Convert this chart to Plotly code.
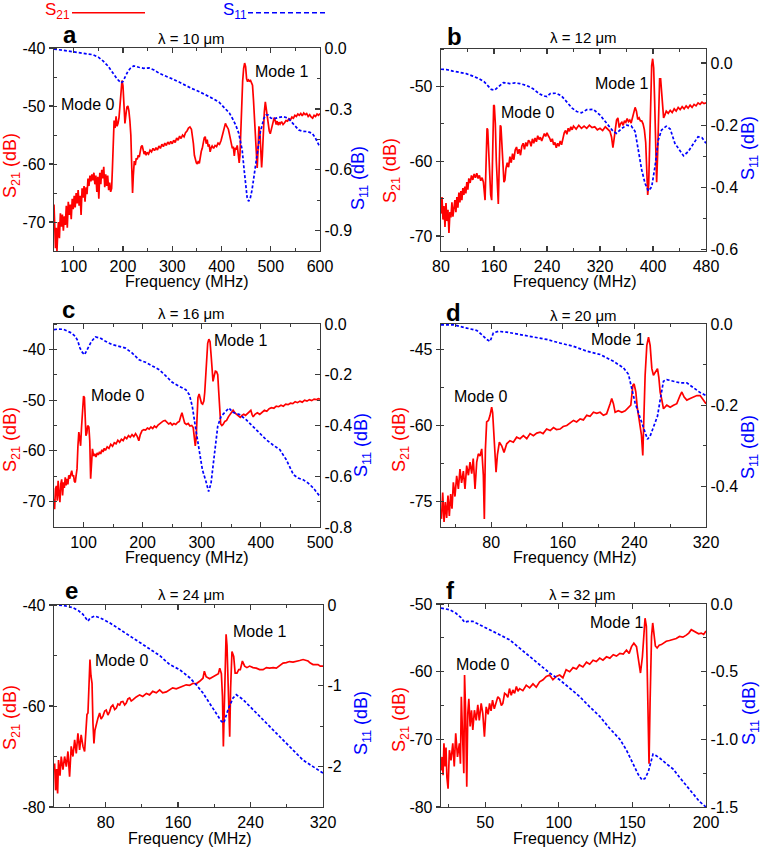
import plotly.graph_objects as go

# ---------------- data (frequency MHz, dB) ----------------
a_s21 = [(60,-67),(61.5,-70.5),(63,-74.5),(64.5,-71),(66,-75),(67.5,-72),(69,-70),(71,-72.8),(73,-68.5),(75,-70.8),
         (77,-68.7),(79,-71.5),(81,-69),(83,-70.5),(85,-67.2),(87,-71),(89,-66.5),(91,-68.8),(93,-67),(95,-69.5),
         (97,-66),(99,-67.8),(101,-65.5),(103,-67.5),(105,-65),(107,-66.8),(109,-64.5),(111,-67.2),(113,-65.5),(115,-68.8),
         (117,-64.2),(119,-65.8),(121,-63.8),(123,-66.5),(125,-64),(127,-65.2),(129,-62.5),(131,-63.8),(133,-62),(135,-63),
         (137,-61.8),(139,-62.8),(141,-61.5),(143,-63.5),(145,-62),(147,-64.8),(149,-62.2),(151,-66),(153,-61.5),(155,-63.5),
         (157,-61),(159,-62.5),(161,-60.5),(163,-64),(165,-61.8),(167,-63.8),(169,-62),(171,-64.5),(173,-63.2),(175,-64.8),
         (177,-64.2),(178.5,-61),(180,-55),(182,-52.5),(184,-53.8),(186,-51.8),(188,-53.5),(190,-53),(192,-52),(194,-50),
         (196,-47),(198,-45.6),(200,-46.5),(202,-50.5),(204,-53),(206,-51.5),(208,-50.2),(210,-50),(212,-50.8),(214,-52.5),
         (216,-55),(218,-61),(219.5,-65),(221,-62),(223,-59.5),(225,-60.2),(227,-59),(229,-59.2),(231,-58.5),(233,-58.8),
         (235,-57.8),(237,-57),(239,-56.8),(241,-57.5),(243,-58.3),(245,-57.8),(247,-58.5),(249,-58),(252,-58.3),(255,-57.6),
         (258,-57.9),(261,-57.3),(264,-57.7),(267,-57.2),(270,-57.6),(273,-56.9),(276,-57.3),(279,-56.6),(282,-57),(285,-56.4),
         (288,-56.8),(291,-56.2),(294,-56.6),(297,-56.1),(300,-56.5),(303,-55.9),(306,-56.3),(309,-55.5),(312,-55.9),(315,-55.2),
         (318,-55.6),(321,-55),(324,-55.3),(327,-54.6),(330,-54.3),(333,-53.8),(336,-53.6),(339,-54),(341,-55),(343,-56.5),
         (345,-58.5),(347,-59.3),(349,-59.8),(351,-60),(353,-59.5),(355,-59.9),(357,-58.5),(359,-57.8),(361,-57.3),(363,-56.2),
         (365,-55.5),(367,-55.3),(369,-56.5),(371,-55.8),(373,-57),(375,-56.6),(377,-57.9),(379,-57.2),(381,-56.9),(384,-57.3),
         (387,-56.8),(390,-57),(393,-56.4),(396,-56.6),(399,-56),(402,-55),(405,-54.2),(408,-53),(410,-53.4),(412,-53.8),
         (414,-54),(416,-54.8),(418,-55.6),(420,-56.8),(422,-57.3),(424,-57),(426,-58.6),(428,-57.2),(430,-57.5),(432,-56.8),
         (434,-58),(436,-59.8),(437.5,-58.5),(439,-55),(441,-49),(443,-45.7),(445,-43.5),(447,-42.6),(449,-43.2),(451,-45.3),
         (453,-45.8),(455,-45.5),(457,-45.7),(459,-45.6),(461,-46),(463,-46.4),(465,-49),(467,-52.5),(469,-56),(471,-59),
         (472.5,-60.7),(474,-58),(476,-53.5),(478,-54.5),(480,-58),(481.5,-60.6),(483,-58.5),(485,-54),(487,-51),(489,-49.3),
         (491,-50.5),(493,-52),(495,-53.5),(497,-54.3),(499,-54.8),(501,-54),(503,-53.2),(505,-52.6),(507,-52),(509,-52.5),
         (511,-53.2),(513,-52.6),(515,-53.3),(517,-52.8),(519,-53.1),(522,-52.7),(525,-53.2),(528,-52.9),(531,-52.5),(534,-52.6),
         (537,-52.2),(540,-52.4),(543,-51.9),(546,-52.1),(549,-51.6),(552,-51.8),(555,-51.4),(558,-51.6),(561,-51.3),(564,-51.7),
         (567,-51.2),(570,-51.5),(573,-51.3),(576,-51.8),(579,-51.5),(582,-51.9),(585,-52.1),(588,-51.6),(591,-51.8),(594,-51.4),
         (597,-51.6),(600,-51.3)]
a_s11 = [(60,-0.005),(80,-0.012),(105,-0.02),(125,-0.026),(139,-0.033),(150,-0.045),(160,-0.065),(170,-0.09),(180,-0.125),
         (188,-0.152),(196,-0.172),(200,-0.165),(205,-0.14),(210,-0.115),(215,-0.1),(222,-0.088),(232,-0.095),(242,-0.1),
         (253,-0.098),(263,-0.108),(274,-0.125),(287,-0.137),(301,-0.153),(314,-0.168),(327,-0.186),(340,-0.2),(354,-0.214),
         (367,-0.228),(381,-0.247),(395,-0.267),(408,-0.297),(416,-0.32),(422,-0.346),(429,-0.38),(435,-0.42),(439,-0.46),
         (442,-0.502),(446,-0.6),(449,-0.684),(452,-0.735),(455,-0.755),(458,-0.745),(462,-0.7),(466,-0.634),(469,-0.57),
         (472,-0.51),(476,-0.455),(479,-0.412),(483,-0.375),(486,-0.346),(490,-0.33),(495,-0.33),(500,-0.345),(507,-0.348),
         (516,-0.342),(525,-0.338),(535,-0.345),(543,-0.365),(551,-0.385),(557,-0.404),(565,-0.41),(575,-0.412),(584,-0.42),
         (590,-0.44),(597,-0.475),(600,-0.486)]

b_s21 = [(80,-67),(81.5,-64.8),(83,-67.8),(84.5,-66),(86,-68.8),(87.5,-65.6),(89,-68),(90.5,-66.5),(92,-69.6),(93.5,-66.8),
         (95,-67.5),(96.5,-65.5),(98,-67.4),(99.5,-66),(101,-65.2),(102.5,-66.8),(104,-64.8),(105.5,-66.2),(107,-64.2),(108.5,-65.5),
         (110,-64),(111.5,-65.2),(113,-63.6),(114.5,-64.5),(116,-63.4),(117.5,-64.3),(119,-62.8),(120.5,-63.8),(122,-62.3),(124,-62.9),
         (126,-61.9),(128,-62.5),(130,-61.7),(132,-62.2),(134,-61.6),(136,-62.3),(138,-61.9),(140,-62.6),(142,-62.2),(144,-62.8),
         (145.5,-64.2),(146.5,-65.2),(147.5,-62),(148.5,-57),(149.5,-55.6),(150.5,-55.8),(152,-58.5),(153.5,-62.5),(155,-64.5),(156.5,-65.2),
         (157.5,-61),(158.5,-55),(159.5,-52.5),(160.5,-52.6),(162,-55),(163.5,-60),(165,-64),(166.5,-65.7),(167.5,-62),(168.5,-57),
         (169.5,-55.2),(170.5,-55.4),(172,-57.5),(173.5,-61),(175,-62.8),(176.5,-62.5),(178,-61),(180,-60.2),(182,-60.8),(184,-59.4),
         (186,-60.2),(188,-59),(190,-59.8),(192,-58.5),(194,-58.1),(196,-59),(198,-58.4),(200,-59.2),(202,-58),(204,-57.6),
         (206,-58.4),(208,-57.5),(210,-58),(212,-57.2),(214,-57.4),(216,-58),(218,-57),(220,-57.6),(222,-56.9),(224,-57.4),
         (226,-56.6),(228,-57.1),(230,-56.8),(232,-57.3),(234,-56.8),(236,-56.3),(238,-56.7),(240,-56.2),(242,-56.6),(244,-56.9),
         (246,-57.4),(248,-57),(250,-57.8),(252,-57.5),(254,-58.2),(256,-57.6),(258,-58),(260,-57.3),(262,-57.8),(264,-57),
         (266,-56.2),(268,-55.9),(270,-56.4),(272,-55.6),(274,-56),(276,-55.4),(278,-55.8),(280,-55.3),(284,-55.7),(288,-55.2),
         (292,-55.6),(296,-55.3),(300,-55.6),(304,-55.2),(308,-55.5),(312,-55.4),(316,-55.8),(320,-55.6),(324,-55.9),(328,-55.4),
         (332,-55.8),(335,-56),(337.5,-56.8),(339.5,-58.2),(341,-57.2),(343,-55.5),(345,-54.5),(347,-54.2),(349,-55.5),(351,-55),
         (353,-54.8),(355,-55.2),(357,-54.6),(359,-54.8),(361,-54.3),(363,-54.7),(365,-54.5),(367,-54.9),(369,-54.3),(371,-53.5),
         (373,-52.8),(375,-53.3),(377,-54.4),(379,-54.2),(381,-54.6),(383,-54.6),(385,-55),(387,-55.8),(389,-57.5),(390.5,-61),
         (392,-64.5),(393.5,-63),(395,-58),(396.5,-51),(398,-47.2),(399.5,-46.3),(401,-47.5),(402.5,-52),(404,-58),(405.5,-62.8),
         (407,-59),(408.5,-52),(410,-49),(411.5,-49),(413,-50.5),(414.5,-53),(416,-54.2),(418,-53.8),(420,-53.3),(423,-53.6),
         (426,-53.2),(429,-53.5),(432,-53),(435,-53.3),(438,-52.8),(441,-53.1),(444,-52.7),(447,-53),(450,-52.6),(453,-52.9),
         (456,-52.5),(459,-52.8),(462,-52.4),(465,-52.6),(468,-52.2),(471,-52.4),(474,-52.1),(477,-52.3),(480,-52.2)]
b_s11 = [(80,-0.02),(88,-0.021),(98,-0.026),(108,-0.031),(118,-0.034),(128,-0.042),(138,-0.051),(145,-0.06),(150,-0.07),
         (156,-0.085),(161,-0.087),(166,-0.078),(174,-0.063),(184,-0.066),(192,-0.064),(199,-0.066),(209,-0.072),(219,-0.083),
         (229,-0.1),(236,-0.106),(240,-0.108),(245,-0.098),(254,-0.097),(262,-0.106),(270,-0.125),(278,-0.145),(285,-0.156),
         (292,-0.16),(300,-0.15),(310,-0.149),(320,-0.167),(330,-0.194),(340,-0.22),(345,-0.226),(353,-0.21),(360,-0.2),
         (367,-0.202),(373,-0.22),(378,-0.28),(383,-0.344),(388,-0.387),(393,-0.411),(398,-0.398),(403,-0.333),(408,-0.247),
         (413,-0.215),(420,-0.203),(426,-0.212),(433,-0.258),(441,-0.285),(446,-0.298),(453,-0.285),(461,-0.258),(468,-0.237),
         (474,-0.24),(480,-0.258)]

c_s21 = [(50,-69.5),(51,-71.5),(52.5,-67.5),(54,-66.9),(55.5,-69.8),(57,-65.9),(58.5,-68.5),(60,-70.1),(61.5,-66.5),(63,-65.6),
         (64.5,-68.8),(66,-66.2),(67.5,-67.3),(69,-65.2),(70.5,-66.8),(72,-65.5),(73.5,-66.6),(75,-64.8),(76.5,-65.5),(78,-64.5),
         (80,-63.9),(81.5,-65),(83,-64.8),(84.5,-66),(86,-66.2),(87.5,-64.8),(89,-63.5),(90.5,-59),(92,-56.3),(93.5,-57.5),
         (95,-59),(96.5,-55.5),(98,-52.5),(100,-49.2),(101.5,-49.5),(103,-53),(104,-57),(105.5,-56.5),(107,-55),(109,-55.3),
         (110.5,-58),(112,-65.5),(113.5,-62),(115,-59.6),(117,-61),(119,-60.6),(121,-61.2),(123,-60.4),(125,-60.8),(127,-60.2),
         (129,-60.6),(131,-59.8),(133,-60.2),(135,-59.5),(137,-59.9),(140,-59.2),(143,-59.5),(146,-58.7),(149,-59.1),(152,-58.4),
         (155,-58.6),(158,-57.9),(161,-58.3),(164,-57.7),(167,-58),(170,-57.3),(173,-57.6),(176,-57),(179,-57.3),(182,-56.8),
         (185,-57.2),(188,-56.6),(191,-57.2),(193.5,-58),(196,-56.8),(199,-56),(202,-55.8),(205,-55.9),(208,-55.5),(211,-55.7),
         (214,-55.3),(217,-55.6),(220,-55.1),(223,-55.4),(226,-54.9),(229,-54.6),(232,-54.4),(235,-54.1),(238,-54),(241,-54.3),
         (244,-54.7),(247,-54.5),(250,-54.9),(253,-54.6),(256,-54.8),(259,-54.4),(262,-54.2),(264.5,-53.2),(266.5,-52.5),(268.5,-53.4),
         (271,-54.5),(274,-54.8),(277,-54.6),(280,-55.1),(283,-55),(285.5,-55.4),(287.5,-57),(289,-59),(290.5,-57.5),(292,-52),
         (293.5,-49.5),(295.5,-48.8),(297.5,-49.6),(299.5,-50.6),(301.5,-50.8),(303.5,-50.2),(305,-48.5),(306.5,-45),(308,-41.5),(310,-38.8),
         (312,-38),(314,-38.5),(316,-41.5),(317.5,-45),(319,-46.3),(321,-45.2),(323,-44.3),(325,-44.4),(327,-45),(328.5,-48),
         (330,-51),(332,-54.7),(334,-55),(336,-54.8),(339,-54.2),(342,-54),(345,-53.3),(348,-52.8),(351,-52.3),(353,-52),
         (356,-52.5),(359,-52.8),(362,-53),(365,-53.4),(368,-53),(371,-52.8),(374,-53),(377,-52.7),(380,-52.4),(383,-52),
         (385,-52.8),(387,-53.3),(390,-52.8),(394,-52.5),(398,-52.8),(402,-52.3),(406,-52),(410,-52.2),(414,-51.7),(418,-51.5),
         (422,-51.6),(426,-51.2),(430,-51.3),(434,-51),(438,-51.2),(442,-50.8),(446,-50.9),(450,-50.6),(454,-50.7),(458,-50.3),
         (462,-50.5),(466,-50.2),(470,-50.4),(474,-50),(478,-50.2),(482,-49.9),(486,-50.1),(490,-49.8),(494,-49.9),(497,-49.7),
         (500,-49.8)]
c_s11 = [(50,-0.022),(58,-0.02),(66,-0.021),(74.5,-0.029),(80,-0.036),(86,-0.049),(90,-0.065),(94,-0.095),(98,-0.112),
         (101.7,-0.121),(105,-0.107),(108.5,-0.088),(113,-0.07),(120,-0.051),(128,-0.055),(137,-0.068),(148,-0.081),(160,-0.088),
         (171,-0.095),(182,-0.114),(194,-0.141),(205,-0.151),(216,-0.164),(228,-0.18),(239,-0.204),(250,-0.23),(262,-0.246),
         (273,-0.259),(279,-0.279),(284,-0.325),(290,-0.417),(296,-0.509),(301,-0.574),(307,-0.62),(311.6,-0.66),(315.6,-0.628),
         (321,-0.509),(327,-0.403),(332.6,-0.364),(338,-0.35),(346,-0.331),(352.5,-0.348),(364,-0.357),(375,-0.377),(386.5,-0.403),
         (398,-0.43),(409,-0.456),(420,-0.476),(432,-0.495),(443,-0.535),(455,-0.594),(463,-0.607),(471.6,-0.614),(480,-0.627),
         (489,-0.647),(500,-0.68)]

d_s21 = [(24.5,-78.4),(25.9,-73.2),(27.4,-79),(28.8,-75.1),(30.3,-78.2),(31.8,-73.8),(33.3,-77.8),(34.8,-73.5),(36.3,-76.4),(37.8,-71.2),
         (39.6,-74),(41.5,-69.9),(43.4,-72.5),(45.2,-68.6),(47,-71.3),(49,-69),(50.8,-72.5),(52.7,-67.9),(54.6,-69.8),(56.4,-67.2),
         (58.3,-69.5),(60,-66.5),(62,-72.5),(63.9,-67.2),(65.7,-65.6),(67.6,-66),(69.5,-64.6),(71.3,-69.8),(72.4,-78.4),(73.6,-64.6),
         (75,-59.3),(77,-59),(78.8,-58),(80.6,-56.4),(81.7,-57.5),(83.2,-62.6),(84.4,-67.2),(85.5,-69.2),(87,-65.8),(89.2,-63.3),
         (91.8,-64),(94.4,-65.3),(97.4,-63.6),(101,-63),(104.8,-63.3),(108.5,-62.3),(112.3,-62.6),(116,-62),(119.8,-62.6),(123.5,-61.6),
         (127.2,-62),(131,-61.5),(134.7,-61.3),(138,-61.6),(142,-60.7),(146,-61),(149.6,-60.4),(153,-60.8),(157,-60.7),(160.5,-60.2),
         (164.5,-60),(168,-59.6),(172,-59),(175.5,-59.3),(179.4,-58.7),(183,-58.9),(186.8,-58),(190.5,-58.2),(194.3,-57.4),(198,-57.6),
         (201.7,-57.4),(205.4,-58),(209,-57.7),(212.9,-55.7),(214.7,-54.7),(216.6,-55.7),(218.5,-57.4),(222,-57.1),(226,-57.4),(229.7,-57.1),
         (233.4,-56.4),(236,-56),(238.3,-52.1),(239.7,-51.8),(241.6,-53.4),(243.4,-56.7),(245.7,-59.3),(247.9,-61.9),(249.4,-65.9),(250.1,-61.5),
         (252,-50.1),(253.9,-44.2),(255.8,-42.6),(257.6,-44.2),(259.5,-48.8),(261.3,-50.1),(263.6,-49.5),(265.8,-48.8),(267.3,-50.5),(268.8,-53.4),
         (270.7,-55),(272.5,-56.7),(276.2,-56),(280,-56.4),(283.7,-56),(287.4,-55.7),(291,-54.1),(293,-53.4),(295.6,-54.4),(298.6,-55),
         (302.3,-54.7),(306,-54.4),(309.8,-54.1),(313.5,-54.1),(317,-55),(320,-55.7)]
d_s11 = [(24,-0.002),(37.8,-0.002),(52.7,-0.01),(64,-0.016),(69.5,-0.026),(75,-0.038),(78.8,-0.043),(82.5,-0.022),(88,-0.018),
         (97.4,-0.02),(112.3,-0.026),(127,-0.032),(142,-0.038),(157,-0.047),(172,-0.055),(186.8,-0.067),(201.7,-0.075),(216.6,-0.092),
         (227.8,-0.108),(233.4,-0.124),(237,-0.157),(240.8,-0.194),(246.4,-0.231),(250.9,-0.263),(254.6,-0.284),(257.6,-0.276),
         (262,-0.251),(265.8,-0.227),(269.5,-0.178),(272.5,-0.141),(276.2,-0.137),(283.7,-0.141),(291,-0.145),(298.6,-0.145),
         (306,-0.157),(313.5,-0.169),(320,-0.176)]

e_s21 = [(23.7,-71.4),(24.8,-76.7),(25.9,-72.5),(27,-77.3),(28,-70.7),(29.6,-73.8),(31,-70),(32.9,-72.6),(34.7,-70),(36.6,-72),
         (38.4,-69),(40.2,-74),(42,-68),(43.9,-70),(45.8,-66.7),(47.6,-69.4),(49.4,-65.4),(51.3,-68.7),(53,-65.7),(55,-68),
         (56.8,-69),(57.9,-64.8),(59.4,-61.7),(60.5,-61.4),(61.6,-54.8),(62.7,-50.8),(63.8,-54),(65,-55.5),(66,-63.4),(67.1,-67.4),
         (68.2,-64.8),(69.7,-63.4),(71.5,-62.4),(73.4,-61.4),(75,-62.6),(77,-62),(79,-61),(80.7,-60.8),(82.5,-61.8),(84.4,-61.1),
         (86,-60.2),(88,-59.8),(90,-60.7),(91.8,-60.4),(93.6,-59.6),(95.5,-59.8),(97,-59.2),(99,-59.1),(101,-59.8),(102.8,-59.4),
         (104.6,-58.6),(106.5,-58.4),(108.3,-59),(110,-58.8),(113.8,-58.2),(117.6,-57.8),(121,-58.1),(125,-57.5),(128.5,-57.8),(132,-57.1),
         (136,-57.4),(139.6,-56.8),(143,-57.4),(147,-57.2),(150.5,-56.8),(154,-56.4),(158,-56.6),(161.7,-56.4),(165,-56.1),(169,-55.8),
         (172.8,-55.9),(176.5,-55.5),(180,-55.6),(183.8,-55.1),(187.5,-54.5),(189,-53.1),(191,-54.2),(194.8,-54.6),(198.5,-54.2),(202,-53.9),
         (204.5,-53.6),(206,-52.5),(207.8,-53.6),(209,-58.1),(210,-68),(211,-60.5),(212,-50.1),(213,-45.8),(214,-48),(215,-53.5),
         (216,-60.8),(217,-66.1),(218,-56.5),(219.5,-49.2),(221.4,-50.2),(223,-53.5),(225,-53.5),(227,-52.8),(228.7,-52.8),(231,-51.1),
         (233.5,-52.1),(236,-52.4),(239,-52.1),(242.7,-52.4),(246.4,-52.5),(250,-52.8),(253.8,-52.8),(257.5,-52.4),(261,-52.5),(265,-52.4),
         (268.5,-52.5),(272,-52),(275.9,-51.5),(279.5,-51.4),(283,-51.2),(286.9,-51.3),(290.6,-51.2),(294.3,-51),(298,-50.8),(301,-50.9),
         (303.5,-51.1),(306,-51.5),(309,-51.8),(312,-51.8),(314.5,-51.8),(317,-52.1),(320,-52.1)]
e_s11 = [(23,0),(32.9,-0.004),(43.9,-0.033),(50,-0.07),(55,-0.116),(58,-0.16),(60.5,-0.2),(63,-0.16),(67.8,-0.137),(73.4,-0.157),
         (84.4,-0.22),(95.5,-0.3),(110,-0.406),(125,-0.51),(139.6,-0.625),(150.7,-0.737),(161.7,-0.8),(172.8,-0.9),(180,-0.986),
         (187.5,-1.09),(194.8,-1.21),(202,-1.34),(207.8,-1.44),(210.5,-1.46),(215,-1.3),(220.7,-1.15),(224.3,-1.11),(231.7,-1.17),
         (242.7,-1.3),(253.8,-1.42),(264.8,-1.545),(275.9,-1.67),(286.9,-1.79),(298,-1.92),(309,-2.0),(320,-2.08)]

f_s21 = [(20,-74.6),(20.7,-72.6),(21.4,-75.3),(22,-70.6),(22.8,-74),(23.4,-71.2),(24,-75.6),(24.8,-77.3),(25.7,-71.6),(26.8,-73.1),
         (28,-70.6),(29,-74),(30,-69.1),(31.2,-72.6),(32.5,-70.6),(33.2,-73.6),(33.8,-63.7),(34.7,-68.6),(35.5,-75),(36,-60.5),
         (36.7,-65.7),(37.5,-77),(38.2,-66.2),(38.9,-64),(39.8,-68.1),(40.7,-65.7),(41.6,-68.6),(42.7,-65.7),(43.9,-67.2),(45,-64.9),
         (46,-67.2),(47.3,-64.7),(48.4,-66.2),(49.5,-69.6),(50.7,-65.2),(52,-66.3),(53,-64.7),(54,-65.8),(55,-64.2),(56.2,-65.5),
         (57.5,-64.7),(58.6,-63.7),(59.8,-64),(61,-65),(62,-64.7),(63.2,-63.2),(64.3,-63.4),(65.4,-63.8),(66.5,-62.5),(67.7,-63.5),
         (68.8,-62.7),(70,-63.2),(71.2,-62.2),(72.3,-62.9),(73.4,-62.5),(75.6,-62.8),(77.9,-62),(80.2,-62.4),(82.5,-61.8),(84.7,-62.3),
         (87,-61.5),(89.3,-61.2),(91.5,-60.7),(93.8,-60.5),(96,-61.2),(98.3,-60.7),(100.6,-60.5),(102.8,-60.9),(105,-59.7),(107.4,-60),
         (109.7,-59.4),(112,-59.6),(114,-59),(116.4,-59.3),(118.8,-58.6),(121,-58.9),(123.3,-58.3),(125.5,-58.5),(127.8,-58),(130,-58.3),
         (132.4,-57.8),(134.7,-58),(137,-57.5),(139.2,-57.7),(141.5,-57.3),(143.8,-57.4),(146,-56.8),(147.8,-57.3),(149.4,-56.3),(151,-55.8),
         (152.8,-56.3),(154.2,-58.3),(155.5,-60.2),(156.8,-57.8),(157.7,-53.9),(158.6,-52.1),(159.5,-53.3),(160.2,-59.7),(160.9,-69.1),(161.3,-73.6),
         (162,-64.7),(163,-54.8),(163.8,-52.8),(164.7,-54.3),(165.6,-56.2),(166.8,-56.5),(168.2,-56.1),(169.7,-56),(171.3,-55.7),(173,-55.5),
         (175.2,-55.4),(177.6,-55.3),(179.8,-55.1),(182,-54.8),(184.3,-54.9),(186.6,-54.6),(188.3,-54.3),(190,-53.8),(191.7,-54),(193.4,-54.1),
         (195,-54.4),(196.8,-54.3),(198.4,-54.5),(200,-54)]
f_s11 = [(20,-0.03),(25.7,-0.042),(30,-0.067),(33.6,-0.1),(36,-0.135),(38.2,-0.128),(41.6,-0.128),(46,-0.15),(53,-0.19),
         (59.8,-0.227),(66.5,-0.264),(73.4,-0.326),(80.2,-0.388),(87,-0.45),(93.8,-0.51),(100.6,-0.56),(107.4,-0.62),(114.2,-0.684),
         (121,-0.76),(127.8,-0.83),(134.6,-0.92),(141.5,-1.0),(146,-1.08),(150.6,-1.18),(154,-1.26),(156.5,-1.3),(158.5,-1.29),
         (160.8,-1.24),(162.3,-1.17),(164,-1.11),(166,-1.12),(168.7,-1.14),(173,-1.18),(177.7,-1.22),(182,-1.28),(186.6,-1.34),
         (191,-1.4),(195.6,-1.46),(200,-1.5)]

# tick values
a_xticks = [100, 200, 300, 400, 500, 600]; a_y1ticks = [-40, -50, -60, -70]; a_y2ticks = [0.0, -0.3, -0.6, -0.9]
b_xticks = [80, 160, 240, 320, 400, 480]; b_y1ticks = [-50, -60, -70];      b_y2ticks = [0.0, -0.2, -0.4, -0.6]
c_xticks = [100, 200, 300, 400, 500];     c_y1ticks = [-40, -50, -60, -70]; c_y2ticks = [0.0, -0.2, -0.4, -0.6, -0.8]
d_xticks = [80, 160, 240, 320];           d_y1ticks = [-45, -60, -75];      d_y2ticks = [0.0, -0.2, -0.4]
e_xticks = [80, 160, 240, 320];           e_y1ticks = [-40, -60, -80];      e_y2ticks = [0, -1, -2]
f_xticks = [50, 100, 150, 200];           f_y1ticks = [-50, -60, -70, -80]; f_y2ticks = [0.0, -0.5, -1.0, -1.5]

titles = ["λ = 10 μm", "λ = 12 μm", "λ = 16 μm", "λ = 20 μm", "λ = 24 μm", "λ = 32 μm"]
letters = ["a", "b", "c", "d", "e", "f"]
mode_labels = ["Mode 0", "Mode 1"]

# ---------------- layout helpers ----------------
W, H = 763, 849
FONT = "Liberation Sans, Arial, sans-serif"
AX = "#3a3a3a"
RED = "#ff0000"
BLUE = "#0000ff"
TICKSIZE = 16

def px(x):
    return x / W

def py(y):
    return 1 - y / H

panels = [
    dict(s21=a_s21, s11=a_s11, xt=a_xticks, y1t=a_y1ticks, y2t=a_y2ticks, y2fmt="{:.1f}",
         xdom=(54, 320), ydom=(48, 251), xr=(60, 600), y1r=(-75, -40), y2r=(-1.0, 0.0),
         xm=50, y1m=5, y2m=0.15, title_xy=(192, 39), letter_xy=(69.5, 35),
         modes=[(127, -49.7), (521, -44.1)], ylt=(11, 166), yrt=(360, 178), xt_xy=(187, 281)),
    dict(s21=b_s21, s11=b_s11, xt=b_xticks, y1t=b_y1ticks, y2t=b_y2ticks, y2fmt="{:.1f}",
         xdom=(441, 706), ydom=(49, 251), xr=(80, 480), y1r=(-72, -45), y2r=(-0.604, 0.045),
         xm=40, y1m=5, y2m=0.1, title_xy=(583, 38), letter_xy=(454.5, 37),
         modes=[(210, -53.5), (352, -49.6)], ylt=(391, 171), yrt=(749, 148), xt_xy=(575, 281)),
    dict(s21=c_s21, s11=c_s11, xt=c_xticks, y1t=c_y1ticks, y2t=c_y2ticks, y2fmt="{:.1f}",
         xdom=(54, 320), ydom=(324, 527), xr=(50, 500), y1r=(-75, -35), y2r=(-0.8, 0.0),
         xm=50, y1m=5, y2m=0.1, title_xy=(192, 314), letter_xy=(68.5, 310),
         modes=[(157, -49), (366, -38.3)], ylt=(11, 440), yrt=(363, 445), xt_xy=(187, 557)),
    dict(s21=d_s21, s11=d_s11, xt=d_xticks, y1t=d_y1ticks, y2t=d_y2ticks, y2fmt="{:.1f}",
         xdom=(441, 706), ydom=(324, 527), xr=(24, 320), y1r=(-80, -40), y2r=(-0.5, 0.0),
         xm=40, y1m=7.5, y2m=0.1, title_xy=(583, 315), letter_xy=(453.5, 313),
         modes=[(67.6, -54.3), (221.7, -43)], ylt=(400, 440), yrt=(750, 447), xt_xy=(575, 557)),
    dict(s21=e_s21, s11=e_s11, xt=e_xticks, y1t=e_y1ticks, y2t=e_y2ticks, y2fmt="{:.0f}",
         xdom=(54, 323), ydom=(605, 807), xr=(23, 320), y1r=(-80, -40), y2r=(-2.5, 0.0),
         xm=40, y1m=10, y2m=0.5, title_xy=(192, 594), letter_xy=(71.5, 590),
         modes=[(97.7, -50.9), (250, -45.2)], ylt=(11, 718), yrt=(362, 723), xt_xy=(190, 838)),
    dict(s21=f_s21, s11=f_s11, xt=f_xticks, y1t=f_y1ticks, y2t=f_y2ticks, y2fmt="{:.1f}",
         xdom=(441, 706), ydom=(604, 807), xr=(20, 200), y1r=(-80, -50), y2r=(-1.5, 0.0),
         xm=25, y1m=5, y2m=0.25, title_xy=(582, 594), letter_xy=(450, 590),
         modes=[(48, -59), (139, -52.8)], ylt=(400, 720), yrt=(750, 713), xt_xy=(575, 838)),
]

fig = go.Figure()
layout = dict(width=W, height=H, autosize=False, margin=dict(l=0, r=0, t=0, b=0, pad=0, autoexpand=False),
              paper_bgcolor="white", plot_bgcolor="white", showlegend=False,
              font=dict(family=FONT, size=15, color="black"))
annotations = []
shapes = []

for i, p in enumerate(panels):
    n = i + 1
    xa = "xaxis" if n == 1 else f"xaxis{n}"
    xref = "x" if n == 1 else f"x{n}"
    yl = 2 * n - 1
    yr = 2 * n
    ya_l = "yaxis" if yl == 1 else f"yaxis{yl}"
    yref_l = "y" if yl == 1 else f"y{yl}"
    ya_r = f"yaxis{yr}"
    yref_r = f"y{yr}"

    xdom = [px(p["xdom"][0]), px(p["xdom"][1])]
    ydom = [py(p["ydom"][1]), py(p["ydom"][0])]

    layout[xa] = dict(domain=xdom, anchor=yref_l, range=list(p["xr"]), automargin=False,
                      tickmode="array", tickvals=p["xt"], ticktext=[str(v) for v in p["xt"]],
                      ticks="inside", ticklen=5, tickwidth=1.2, tickcolor=AX,
                      minor=dict(tickmode="linear", tick0=0, dtick=p["xm"], ticks="inside",
                                 ticklen=3, tickwidth=1, tickcolor=AX, showgrid=False),
                      showline=True, linecolor=AX, linewidth=1.3, mirror="ticks",
                      showgrid=False, zeroline=False, tickfont=dict(size=TICKSIZE, color="black"))
    layout[ya_l] = dict(domain=ydom, anchor=xref, range=list(p["y1r"]), automargin=False,
                        tickmode="array", tickvals=p["y1t"], ticktext=[str(v) for v in p["y1t"]],
                        ticks="outside", ticklen=4, tickwidth=1.2, tickcolor=AX,
                        minor=dict(tickmode="linear", tick0=0, dtick=p["y1m"], ticks="inside",
                                   ticklen=3, tickwidth=1, tickcolor=AX, showgrid=False),
                        showline=True, linecolor=AX, linewidth=1.3,
                        showgrid=False, zeroline=False, tickfont=dict(size=TICKSIZE, color="black"))
    layout[ya_r] = dict(overlaying=yref_l, anchor=xref, side="right", range=list(p["y2r"]), automargin=False,
                        tickmode="array", tickvals=p["y2t"],
                        ticktext=[p["y2fmt"].format(v) for v in p["y2t"]],
                        ticks="inside", ticklen=5, tickwidth=1.2, tickcolor=AX,
                        minor=dict(tickmode="linear", tick0=0, dtick=p["y2m"], ticks="inside",
                                   ticklen=3, tickwidth=1, tickcolor=AX, showgrid=False),
                        showline=True, linecolor=AX, linewidth=1.3,
                        showgrid=False, zeroline=False, tickfont=dict(size=TICKSIZE, color="black"))

    fx, fv = zip(*p["s21"])
    gx, gv = zip(*p["s11"])
    fig.add_trace(go.Scatter(x=list(fx), y=list(fv), mode="lines", xaxis=xref, yaxis=yref_l,
                             line=dict(color=RED, width=1.7), hoverinfo="skip"))
    fig.add_trace(go.Scatter(x=list(gx), y=list(gv), mode="lines", xaxis=xref, yaxis=yref_r,
                             line=dict(color=BLUE, width=1.7, dash="3px,2px"), hoverinfo="skip"))

    annotations.append(dict(x=px(p["letter_xy"][0]), y=py(p["letter_xy"][1]), xref="paper", yref="paper",
                            text=f"<b>{letters[i]}</b>", showarrow=False, xanchor="center", yanchor="middle",
                            font=dict(size=24, color="black")))
    annotations.append(dict(x=px(p["title_xy"][0]), y=py(p["title_xy"][1]), xref="paper", yref="paper",
                            text=titles[i], showarrow=False, xanchor="center", yanchor="middle",
                            font=dict(size=15, color="black")))
    for (mx, my), lab in zip(p["modes"], mode_labels):
        annotations.append(dict(x=mx, y=my, xref=xref, yref=yref_l, text=lab, showarrow=False,
                                xanchor="center", yanchor="middle", font=dict(size=16, color="black")))
    annotations.append(dict(x=px(p["ylt"][0]), y=py(p["ylt"][1]), xref="paper", yref="paper",
                            text="S<sub>21</sub> (dB)", textangle=-90, showarrow=False,
                            xanchor="center", yanchor="middle", font=dict(size=18, color=RED)))
    annotations.append(dict(x=px(p["yrt"][0]), y=py(p["yrt"][1]), xref="paper", yref="paper",
                            text="S<sub>11</sub> (dB)", textangle=-90, showarrow=False,
                            xanchor="center", yanchor="middle", font=dict(size=18, color=BLUE)))
    annotations.append(dict(x=px(p["xt_xy"][0]), y=py(p["xt_xy"][1]), xref="paper", yref="paper",
                            text="Frequency (MHz)", showarrow=False,
                            xanchor="center", yanchor="middle", font=dict(size=16, color="black")))

annotations.append(dict(x=px(57), y=py(11), xref="paper", yref="paper", text="S<sub>21</sub>",
                        showarrow=False, xanchor="center", yanchor="middle", font=dict(size=17, color=RED)))
annotations.append(dict(x=px(235), y=py(11), xref="paper", yref="paper", text="S<sub>11</sub>",
                        showarrow=False, xanchor="center", yanchor="middle", font=dict(size=17, color=BLUE)))
shapes.append(dict(type="line", xref="paper", yref="paper", x0=px(72), x1=px(145), y0=py(12.7), y1=py(12.7),
                   line=dict(color=RED, width=1.5)))
shapes.append(dict(type="line", xref="paper", yref="paper", x0=px(248), x1=px(327), y0=py(12.7), y1=py(12.7),
                   line=dict(color=BLUE, width=1.6, dash="5px,3px")))

layout["annotations"] = annotations
layout["shapes"] = shapes
fig.update_layout(**layout)
fig.write_html("out.html", config={"displayModeBar": False, "staticPlot": True},
               post_script="document.body.style.margin='0px';document.body.style.padding='0px';"
                           "document.body.style.overflow='hidden';")
